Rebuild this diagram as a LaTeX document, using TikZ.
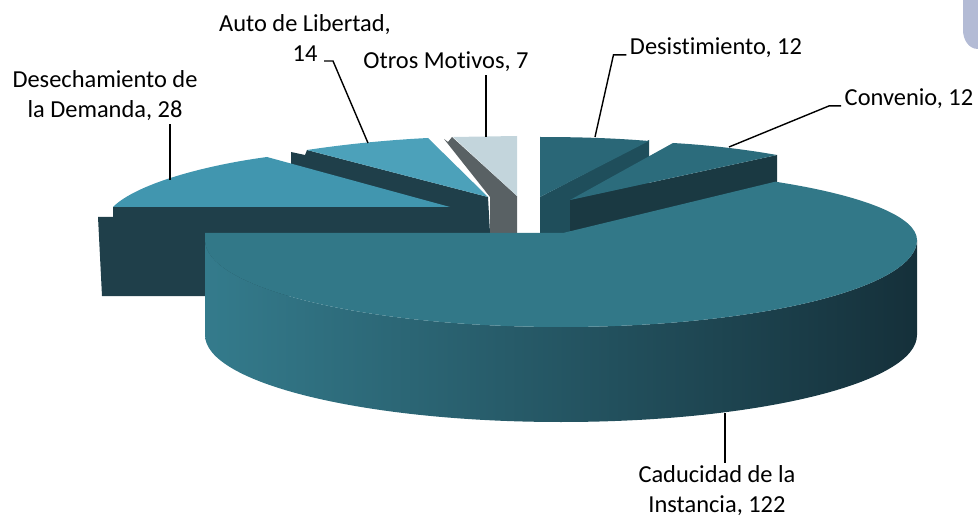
\documentclass[tikz,border=0pt]{standalone}
\usepackage{fontspec}
\setmainfont{Carlito}[Ligatures=NoCommon]
\definecolor{cornerBlue}{HTML}{B3BBD5}
\definecolor{otrosTop}{HTML}{C3D5DC}
\definecolor{otrosSide}{HTML}{596164}
\definecolor{autoTop}{HTML}{4CA1BA}
\definecolor{darkSide}{HTML}{1F3F4A}
\definecolor{desechTop}{HTML}{4196AF}
\definecolor{desisTop}{HTML}{2A6777}
\definecolor{desisSide}{HTML}{1F4E5B}
\definecolor{convTop}{HTML}{2C6C7C}
\definecolor{convFront}{HTML}{1A3942}
\definecolor{cadTop}{HTML}{327888}
\definecolor{cadSideL}{HTML}{347B8C}
\definecolor{cadSideM}{HTML}{2A6170}
\definecolor{cadSideR}{HTML}{15303A}
\begin{document}
\begin{tikzpicture}[x=0.02cm,y=-0.02cm,
  lbl/.style={font=\fontsize{13.9}{17}\selectfont, inner sep=0pt, outer sep=2pt, align=center},
  leader/.style={line width=0.8pt}]
  \useasboundingbox (0,0) rectangle (978,517);
  % corner of the background shape
  \fill[cornerBlue] (963,0) -- (963,30) to[out=-90,in=180] (978,49) -- (978,0) -- cycle;
  % Otros Motivos
  \fill[otrosSide] (444,139) -- (448,142) -- (452,137) -- (517,196) -- (517,233) -- (490,233) -- (490,197) -- cycle;
  \fill[otrosTop] (453,137) -- (517,136) -- (517,196) -- cycle;
  % Auto de Libertad
  \fill[darkSide] (291,152) -- (305,155) -- (307,150) -- (488,197) -- (490,233) -- (291,233) -- cycle;
  \fill[autoTop] (307,150) .. controls (347,144) and (388,140) .. (428,138) -- (488,197) -- cycle;
  % Desistimiento
  \fill[desisSide] (540,197) -- (649,140) -- (649,240) -- (540,297) -- cycle;
  \fill[desisTop] (540,137) .. controls (577,137) and (613,138) .. (649,141) -- (540,197) -- cycle;
  % Convenio
  \fill[convFront] (570,200) -- (777,155) -- (777,260) -- (570,300) -- cycle;
  \fill[convTop] (570,200) -- (673,143) .. controls (708,145) and (743,149) .. (777,155) -- cycle;
  % Desechamiento de la Demanda
  \fill[darkSide] (113,207) -- (452,207) -- (452,296) -- (102,296) -- (98,217) -- (113,217) -- cycle;
  \fill[desechTop] (113,207) -- (450,207) -- (267,157) .. controls (200,166) and (135,185) .. (113,207) -- cycle;
  % Caducidad de la Instancia (side, then top)
  \shade[left color=cadSideL, middle color=cadSideM, right color=cadSideR]
    (205,240) -- (205,335) arc[start angle=180, end angle=0, x radius=356, y radius=87]
    -- (917,240) arc[start angle=0, end angle=180, x radius=356, y radius=87] -- cycle;
  \fill[cadTop] (563,233) -- (205,233) -- (205,240)
    arc[start angle=180, end angle=0, x radius=356, y radius=87]
    arc[start angle=0, end angle=-53, x radius=356, y radius=73] -- cycle;
  % leader ends on the slices
  \coordinate (desechTip) at (170,180);
  \coordinate (autoTip) at (368,143);
  \coordinate (autoEnd) at (324,61);
  \coordinate (otrosTip) at (486,137);
  \coordinate (desisTip) at (595,137);
  \coordinate (convTip) at (729,147);
  \coordinate (cadTip) at (725,413);
  % labels
  \node[lbl] (lblDesech) at (105,96) {Desechamiento de\\la Demanda, 28};
  \node[lbl] (lblAuto) at (305,38) {Auto de Libertad,\\14};
  \node[lbl] (lblOtros) at (446,62) {Otros Motivos, 7};
  \node[lbl] (lblDesis) at (716,48) {Desistimiento, 12};
  \node[lbl] (lblConv) at (909,99) {Convenio, 12};
  \node[lbl] (lblCad) at (717,491) {Caducidad de la\\Instancia, 122};
  % leaders
  \draw[leader] (desechTip) -- (desechTip |- lblDesech.south);
  \draw[leader] (autoEnd) -- ++(9,0) -- (autoTip);
  \draw[leader] (otrosTip) -- (otrosTip |- lblOtros.south);
  \draw[leader] (lblDesis.base west) -- ++(-13,0) -- (desisTip);
  \draw[leader] (lblConv.base west) -- ++(-12,0) -- (convTip);
  \draw[leader] (cadTip) -- (cadTip |- lblCad.north);
\end{tikzpicture}
\end{document}
